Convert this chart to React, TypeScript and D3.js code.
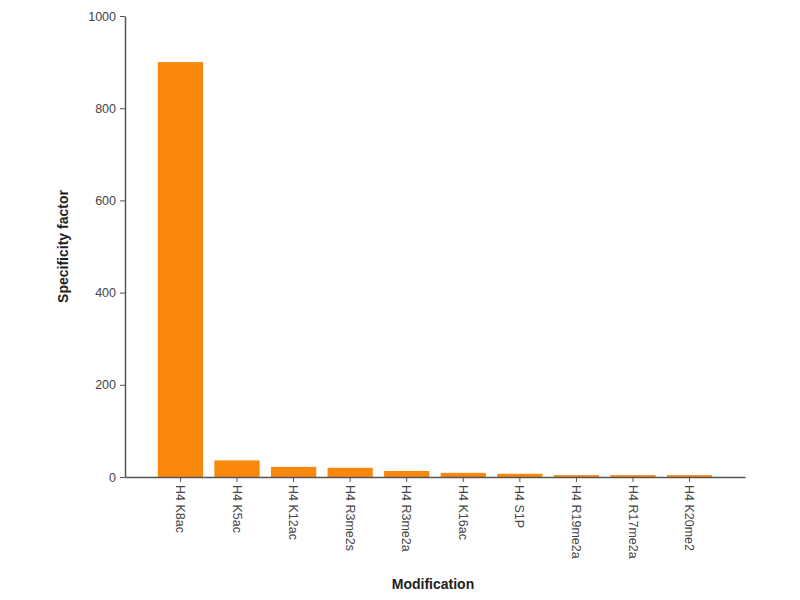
import { useEffect, useRef } from 'react'
import * as d3 from 'd3'

const MODIFICATIONS = [
  'H4 K8ac', 'H4 K5ac', 'H4 K12ac', 'H4 R3me2s', 'H4 R3me2a',
  'H4 K16ac', 'H4 S1P', 'H4 R19me2a', 'H4 R17me2a', 'H4 K20me2',
]
const FACTORS = [900, 36, 22, 20, 13, 9, 7, 4, 4, 4]
const Y_TICKS = [0, 200, 400, 600, 800, 1000]

const W = 800
const H = 600
const FONT = '"Liberation Sans", Arial, sans-serif'

export default function App() {
  const ref = useRef<SVGSVGElement>(null)

  useEffect(() => {
    if (!ref.current) return
    const svg = d3.select(ref.current)
    svg.selectAll('*').remove()

    const left = 125
    const right = 745
    const top = 16
    const bottom = 477

    const x = d3.scaleBand<string>()
      .domain(MODIFICATIONS)
      .range([left, right])
      .paddingInner(0.2)
      .paddingOuter(0.58)
    const y = d3.scaleLinear().domain([0, 1000]).range([bottom, top])

    // bars
    svg.append('g')
      .selectAll('rect')
      .data(MODIFICATIONS)
      .enter().append('rect')
      .attr('x', d => x(d)!)
      .attr('width', x.bandwidth())
      .attr('y', (_, i) => y(FACTORS[i]))
      .attr('height', (_, i) => bottom - y(FACTORS[i]))
      .attr('fill', '#f8870b')

    // y axis
    const gy = svg.append('g')
      .attr('transform', `translate(${left},0)`)
      .call(d3.axisLeft(y).tickValues(Y_TICKS).tickFormat(d3.format('d')).tickSize(5).tickSizeOuter(0).tickPadding(4))
    gy.select('.domain').attr('stroke', '#555').attr('stroke-width', 1.5)
    gy.selectAll('.tick line').attr('stroke', '#555')
    gy.selectAll('.tick text')
      .attr('fill', '#444').attr('font-size', 12.5).attr('font-family', FONT)

    // x axis
    const gx = svg.append('g')
      .attr('transform', `translate(0,${bottom})`)
      .call(d3.axisBottom(x).tickSize(5).tickSizeOuter(0).tickPadding(0))
    gx.select('.domain').attr('stroke', '#555').attr('stroke-width', 1.5)
    gx.selectAll('.tick line').attr('stroke', '#555')
    gx.selectAll('.tick text')
      .attr('fill', '#444').attr('font-size', 12.5).attr('font-family', FONT)
      .attr('text-anchor', 'start')
      .attr('transform', 'rotate(90)')
      .attr('x', 8).attr('y', 0).attr('dy', '0.35em')

    // titles
    svg.append('text')
      .attr('transform', `translate(68,${(top + bottom) / 2}) rotate(-90)`)
      .attr('text-anchor', 'middle')
      .attr('font-size', 14).attr('font-weight', 'bold').attr('font-family', FONT)
      .attr('fill', '#222')
      .text('Specificity factor')

    svg.append('text')
      .attr('x', 433).attr('y', 589)
      .attr('text-anchor', 'middle')
      .attr('font-size', 14).attr('font-weight', 'bold').attr('font-family', FONT)
      .attr('fill', '#222')
      .text('Modification')
  }, [])

  return (
    <svg
      ref={ref}
      width={W}
      height={H}
      style={{ display: 'block', position: 'absolute', left: 0, top: 0, background: '#fff' }}
    />
  )
}
